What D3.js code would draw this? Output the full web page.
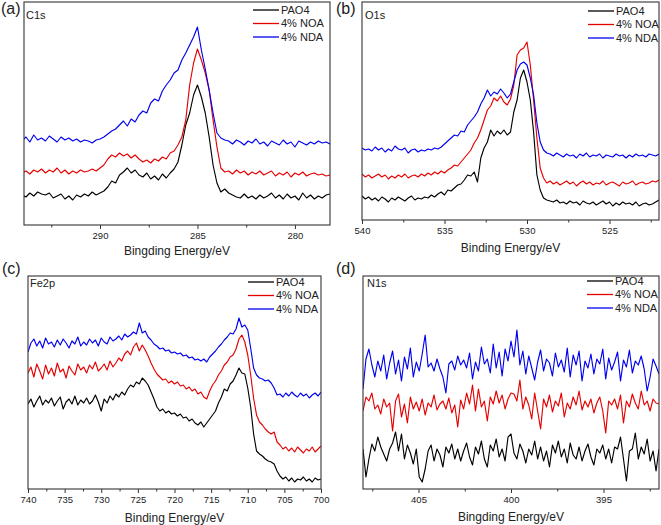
<!DOCTYPE html>
<html><head><meta charset="utf-8">
<script src="https://cdn.jsdelivr.net/npm/d3@7"></script>
<style>body{margin:0;background:#fff} svg{display:block;font-family:Arial,"Liberation Sans",sans-serif}</style>
</head><body><svg id="chart" width="661" height="525"></svg>
<script>
// ---------- data ----------
const seriesNames = ["PAO4", "4% NOA", "4% NDA"];
const seriesColors = ["#000000", "#e60000", "#0000f0"];

// C1s: energy grid 294 -> 278 eV, 0.2 eV steps
const c1sStart = 294, c1sEnd = 278, c1sStep = 0.2;
const c1sPAO4 = [30,28,32,29,33,31,30,32,27,29, 31,26,29,25,30,28,31,29,33,30, 32,34,38,44,42,50,53,57,52,55, 50,48,52,46,49,45,51,47,52,56, 63,80,100,112,130,140,128,112,88,60, 42,33,36,32,30,28,27,31,27,29, 26,30,27,29,32,27,30,26,31,27, 29,25,32,27,30,26,29,27,30,31, 33];
const c1sNOA = [52,54,51,55,53,56,52,55,53,57, 52,55,51,54,52,55,53,54,56,54, 57,60,66,70,68,72,69,71,67,70, 66,63,65,62,66,64,68,66,72,74, 80,88,105,140,162,176,165,152,135,105, 78,57,53,54,51,55,52,54,50,53, 51,54,50,52,54,49,52,50,53,48, 52,50,53,49,51,52,50,51,49,50, 46];
const c1sNDA = [84,88,83,90,85,87,84,89,86,83, 88,85,87,84,86,83,85,84,82,85, 86,88,91,94,96,100,104,99,106,103, 110,114,112,122,126,124,134,140,145,152, 155,165,172,180,188,198,175,156,135,112, 92,87,85,84,81,85,83,80,84,82, 86,81,83,79,84,82,80,85,81,83, 78,84,82,80,83,81,84,82,83,81, 80];

// O1s: 540 -> 522 eV, 0.2 eV steps
const o1sStart = 540, o1sEnd = 522, o1sStep = 0.2;
const o1sPAO4 = [24,21,23,20,22,19,23,21,18,22, 20,23,21,19,22,24,20,22,21,23, 22,25,23,26,
  28,25,30,29,32,35,36,40,45,44, 48,38,62,72,78,90,84,89,86,90, 85,88,108,120,142,150,138,120,88,45, 30,22,20,
  19,18,20,17,18,16,19,17,18,15, 19,17,16,18,15,17,19,16,18,14, 17,15,18,16,17,15,18,14,16,17, 15,16,18,20];
const o1sNOA = [46,43,45,42,44,46,43,45,41,44, 42,45,43,46,42,44,45,43,46,44, 47,45,48,46,49,47,
  50,52,55,54,58,62,66,70,77,82, 90,100,110,114,122,119,124,118,115,121, 135,165,170,172,178,155,120,82,52,42, 37,
  39,36,38,35,37,39,36,38,34,37, 39,36,38,35,37,36,39,35,37,38, 36,34,38,36,37,39,35,37,38,36, 37,39,38,40];
const o1sNDA = [72,70,71,69,73,70,72,68,71,69, 74,71,70,72,67,70,71,68,70,69, 71,70,72,71,73,
  76,79,82,85,84,89,88,95,99,103, 108,116,122,130,124,128,126,131,127,122, 126,138,150,156,158,155,142,125,97,78, 70,67,
  66,64,67,65,63,66,64,65,62,66, 64,67,63,65,64,66,62,65,64,63, 66,64,65,62,65,63,66,64,65,63, 66,65,64,66];

// Fe2p: 740 -> 700 eV, 0.4 eV steps
const fe2pStart = 740, fe2pEnd = 700, fe2pStep = 0.4;
const fe2pPAO4 = [85,90,82,88,93,84,89,86,91,83, 88,92,80,87,90,85,93,84,89,86, 91,85,88,94,87,78,90,86,93,89,
  95,92,97,94,100,104,102,107,105,111, 108,104,97,90,82,78,80,76,78,75, 76,73,75,71,72,68,70,66,64,67,
  62,66,70,74,78,86,92,100,98,105, 108,114,121,116,115,101,82,55,38,35, 33,30,28,27,25,18,13,10,12,8,
  11,7,10,9,12,8,10,7,11,9,10];
const fe2pNOA = [116,122,112,125,118,110,124,115,121,113, 126,117,120,111,123,118,114,125,119,122, 116,124,120,127,118,121,125,119,128,122,
  126,131,128,135,138,134,142,146,138,144, 139,133,126,120,115,112,109,110,106,108, 105,107,103,104,100,102,98,100,95,97,
  92,90,98,104,108,114,118,124,127,132, 134,140,150,154,147,134,114,91,74,67, 64,60,57,55,57,47,44,40,42,38,
  41,37,42,39,36,40,38,42,37,40,43];
const fe2pNDA = [137,146,150,143,148,141,151,145,147,142, 149,144,150,146,141,148,145,152,143,147, 144,150,146,149,143,151,147,145,152,148,
  150,153,149,155,152,154,157,155,166,156, 158,152,149,145,143,140,141,138,139,136, 137,135,136,133,134,131,132,129,130,128,
  130,127,132,135,138,142,145,149,152,156, 155,160,171,162,164,159,141,121,114,111, 110,108,109,106,101,94,95,92,96,93,
  97,94,92,96,93,95,91,94,96,93,97];

// N1s: 408 -> 392 eV, 0.16 eV steps
const n1sStart = 408, n1sEnd = 392, n1sStep = 0.16;
const n1sPAO4 = [40,12,30,45,38,52,42,35,28,40, 46,57,38,55,30,44,36,25,40,12, 7,20,38,44,28,40,34,22,42,36,
  45,30,40,28,38,46,32,24,42,35, 48,30,22,44,38,50,32,40,28,52, 55,36,30,45,38,26,40,34,48,30,
  42,28,38,22,44,36,48,32,40,26, 46,34,30,42,28,38,45,32,24,40, 36,44,30,40,26,42,40,52,30,8,
  38,40,56,30,42,35,50,28,38,18,40];
const n1sNOA = [78,92,88,96,80,84,75,90,82,86, 58,88,95,72,85,66,92,80,87,78, 90,74,86,82,94,79,85,88,80,91,
  76,84,62,89,80,96,85,104,78,100, 82,88,68,92,85,98,86,94,80,90, 96,95,88,109,80,92,84,70,96,78,
  60,90,82,94,77,88,83,96,72,86, 80,92,84,98,79,88,82,90,76,86, 92,78,56,88,84,90,80,94,66,88,
  82,95,86,80,98,84,88,78,90,86,85];
const n1sNDA = [100,130,140,124,112,128,118,134,110,126, 138,115,129,108,132,120,141,112,127,118, 135,154,122,126,118,130,120,112,96,125,
  128,119,133,124,129,121,136,110,127,118, 142,125,130,116,145,121,137,113,140,128, 148,132,159,124,138,115,133,121,109,127,
  139,118,130,126,113,136,122,129,117,141, 112,134,124,138,108,128,121,135,115,130, 125,140,110,131,119,127,137,108,129,122,
  139,116,128,124,133,120,98,112,130,123,115];

// ---------- layout ----------
const panels = [
  {id:"a", tag:"(a)", element:"C1s", title:"Bingding Energy/eV",
   box:{l:24, r:330, t:2, b:225}, xDom:[293.9, 278.2], yDom:[0, 223],
   start:c1sStart, end:c1sEnd, step:c1sStep, series:[c1sPAO4, c1sNOA, c1sNDA],
   major:[290,285,280], minor:[292.5,287.5,282.5],
   tagPos:[1,14], elPos:[26,19], legX:253, legY:10, titleY:255},
  {id:"b", tag:"(b)", element:"O1s", title:"Binding Energy/eV",
   box:{l:362, r:659, t:2, b:220}, xDom:[540, 522], yDom:[0, 218],
   start:o1sStart, end:o1sEnd, step:o1sStep, series:[o1sPAO4, o1sNOA, o1sNDA],
   major:[540,535,530,525], minor:[537.5,532.5,527.5,522.5],
   tagPos:[336,14], elPos:[365,19], legX:588, legY:11, titleY:252},
  {id:"c", tag:"(c)", element:"Fe2p", title:"Binding Energy/eV",
   box:{l:28, r:321, t:276, b:489}, xDom:[740, 700], yDom:[0, 213],
   start:fe2pStart, end:fe2pEnd, step:fe2pStep, series:[fe2pPAO4, fe2pNOA, fe2pNDA],
   major:d3.range(740, 699, -5), minor:d3.range(737.5, 700, -5),
   tagPos:[2,274], elPos:[30,287], legX:248, legY:282, titleY:522},
  {id:"d", tag:"(d)", element:"N1s", title:"Bingding Energy/eV",
   box:{l:363, r:659, t:276, b:489}, xDom:[408, 392], yDom:[0, 213],
   start:n1sStart, end:n1sEnd, step:n1sStep, series:[n1sPAO4, n1sNOA, n1sNDA],
   major:[405,400,395], minor:[407.5,402.5,397.5,392.5],
   tagPos:[336,274], elPos:[367,287], legX:587, legY:281, titleY:521}
];

const svg = d3.select("#chart");
const defs = svg.append("defs");

panels.forEach(p => {
  const {l, r, t, b} = p.box;
  const x = d3.scaleLinear().domain(p.xDom).range([l, r]);
  const y = d3.scaleLinear().domain(p.yDom).range([b, t]);
  const g = svg.append("g");

  defs.append("clipPath").attr("id", "clip-" + p.id)
    .append("rect").attr("x", l).attr("y", t).attr("width", r - l).attr("height", b - t);

  const n = p.series[0].length;
  const energies = d3.range(n).map(i => p.start - i * p.step);

  const line = d3.line().x((d, i) => x(energies[i])).y(d => y(d));
  const plot = g.append("g").attr("clip-path", `url(#clip-${p.id})`);
  p.series.forEach((s, k) => {
    plot.append("path").datum(s).attr("d", line)
      .attr("fill", "none").attr("stroke", seriesColors[k])
      .attr("stroke-width", 1.15).attr("stroke-linejoin", "round");
  });

  // frame
  g.append("rect").attr("x", l).attr("y", t).attr("width", r - l).attr("height", b - t)
    .attr("fill", "none").attr("stroke", "#333").attr("stroke-width", 1.1);

  // axes
  const ax = g.append("g").attr("transform", `translate(0,${b})`)
    .call(d3.axisBottom(x).tickValues(p.major).tickSize(4).tickSizeOuter(0).tickPadding(3).tickFormat(d3.format("d")));
  ax.select(".domain").remove();
  ax.selectAll("line").attr("stroke", "#333");
  ax.selectAll("text").attr("font-size", "9.5px").attr("fill", "#222").attr("font-family", "Arial, 'Liberation Sans', sans-serif");
  const axm = g.append("g").attr("transform", `translate(0,${b})`)
    .call(d3.axisBottom(x).tickValues(p.minor).tickSize(2.5).tickSizeOuter(0).tickFormat(""));
  axm.select(".domain").remove();
  axm.selectAll("line").attr("stroke", "#333");

  // titles
  g.append("text").attr("x", (l + r) / 2).attr("y", p.titleY).attr("text-anchor", "middle")
    .attr("font-size", "12px").attr("fill", "#222").text(p.title);
  g.append("text").attr("x", p.tagPos[0]).attr("y", p.tagPos[1])
    .attr("font-size", "16px").attr("fill", "#222").text(p.tag);
  g.append("text").attr("x", p.elPos[0]).attr("y", p.elPos[1])
    .attr("font-size", "11px").attr("fill", "#222").text(p.element);

  // legend
  seriesNames.forEach((name, k) => {
    const yy = p.legY + k * 13.5;
    g.append("line").attr("x1", p.legX).attr("x2", p.legX + 26).attr("y1", yy).attr("y2", yy)
      .attr("stroke", seriesColors[k]).attr("stroke-width", 1.3);
    g.append("text").attr("x", p.legX + 28).attr("y", yy).attr("dy", "0.36em")
      .attr("font-size", "11px").attr("fill", "#222").text(name);
  });
});
</script></body></html>
